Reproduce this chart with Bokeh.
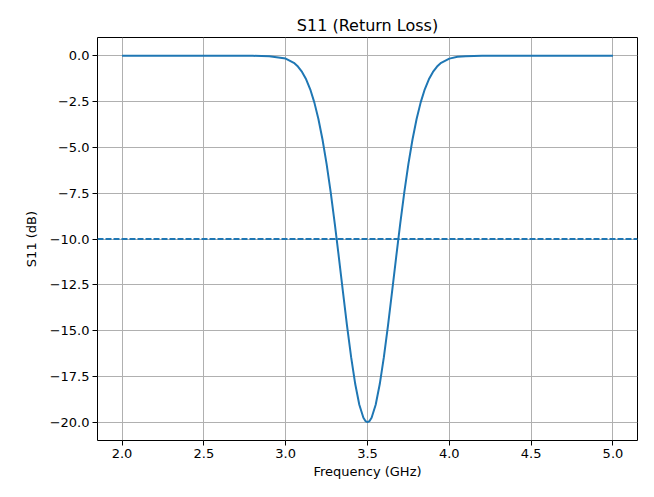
from bokeh.plotting import figure
from bokeh.models import Range1d, FixedTicker, Span
from bokeh.embed import file_html
from bokeh.resources import INLINE

# Frequency (GHz) and S11 (dB)
freq = [2.0, 2.5, 2.8, 2.9, 3.0, 3.05, 3.075, 3.1, 3.125, 3.15, 3.175, 3.2, 3.225,
        3.25, 3.275, 3.3, 3.325, 3.35, 3.375, 3.4, 3.425, 3.45, 3.475, 3.4875, 3.5,
        3.5125, 3.525, 3.55, 3.575, 3.6, 3.625, 3.65, 3.675, 3.7, 3.725, 3.75, 3.775,
        3.8, 3.825, 3.85, 3.875, 3.9, 3.925, 3.95, 4.0, 4.05, 4.1, 4.2, 4.5, 5.0]
s11 = [0.0, 0.0, -0.001, -0.018, -0.152, -0.383, -0.587, -0.879, -1.283, -1.828,
       -2.541, -3.448, -4.567, -5.900, -7.441, -9.157, -10.997, -12.888, -14.740,
       -16.451, -17.919, -19.047, -19.757, -19.939, -20.0,
       -19.939, -19.757, -19.047, -17.919, -16.451, -14.740, -12.888, -10.997, -9.157,
       -7.441, -5.900, -4.567, -3.448, -2.541, -1.828, -1.283, -0.879, -0.587,
       -0.383, -0.152, -0.054, -0.018, -0.001, 0.0, 0.0]
threshold = -10.0
x_ticks = [2.0, 2.5, 3.0, 3.5, 4.0, 4.5, 5.0]
y_ticks = [0.0, -2.5, -5.0, -7.5, -10.0, -12.5, -15.0, -17.5, -20.0]

BLUE = "#1f77b4"
FONT = "DejaVu Sans"

xmin, xmax = min(freq), max(freq)
ymin, ymax = min(s11), max(s11)
xm = 0.05 * (xmax - xmin)
ym = 0.05 * (ymax - ymin)

p = figure(width=638, height=481, output_backend="svg", toolbar_location=None,
           x_range=Range1d(xmin - xm, xmax + xm), y_range=Range1d(ymin - ym, ymax + ym),
           min_border_left=97, min_border_top=37, min_border_right=1, min_border_bottom=30)

p.title.text = "S11 (Return Loss)"
p.title.align = "center"
p.title.text_font = FONT
p.title.text_font_size = "16px"
p.title.text_font_style = "normal"
p.title.text_color = "black"
p.title.standoff = 6

p.outline_line_color = "black"
p.outline_line_width = 1
p.outline_line_alpha = 1

p.line(freq, s11, line_color=BLUE, line_width=2)
p.add_layout(Span(location=threshold, dimension="width", line_color=BLUE,
                  line_width=2, line_dash="6 2"))

p.xaxis.ticker = FixedTicker(ticks=x_ticks)
p.yaxis.ticker = FixedTicker(ticks=y_ticks)
p.xaxis.major_label_overrides = {t: f"{t:.1f}" for t in x_ticks}
p.yaxis.major_label_overrides = {t: f"{t:.1f}".replace("-", "\u2212") for t in y_ticks}

for ax in (p.xaxis, p.yaxis):
    ax.axis_line_color = None
    ax.major_tick_line_color = "black"
    ax.major_tick_in = 0
    ax.major_tick_out = 5
    ax.minor_tick_line_color = None
    ax.major_label_text_font = FONT
    ax.major_label_text_font_size = "13px"
    ax.major_label_text_color = "black"
    ax.axis_label_text_font = FONT
    ax.axis_label_text_font_size = "13px"
    ax.axis_label_text_font_style = "normal"
    ax.axis_label_text_color = "black"
    ax.major_label_standoff = 3
    ax.axis_label_standoff = 3

p.xaxis.axis_label = "Frequency (GHz)"
p.yaxis.axis_label = "S11 (dB)"
p.yaxis.axis_label_standoff = 8

p.grid.grid_line_color = "#b0b0b0"
p.grid.grid_line_width = 1
p.background_fill_color = "white"
p.border_fill_color = "white"

open("out.html", "w").write(file_html(p, INLINE))
